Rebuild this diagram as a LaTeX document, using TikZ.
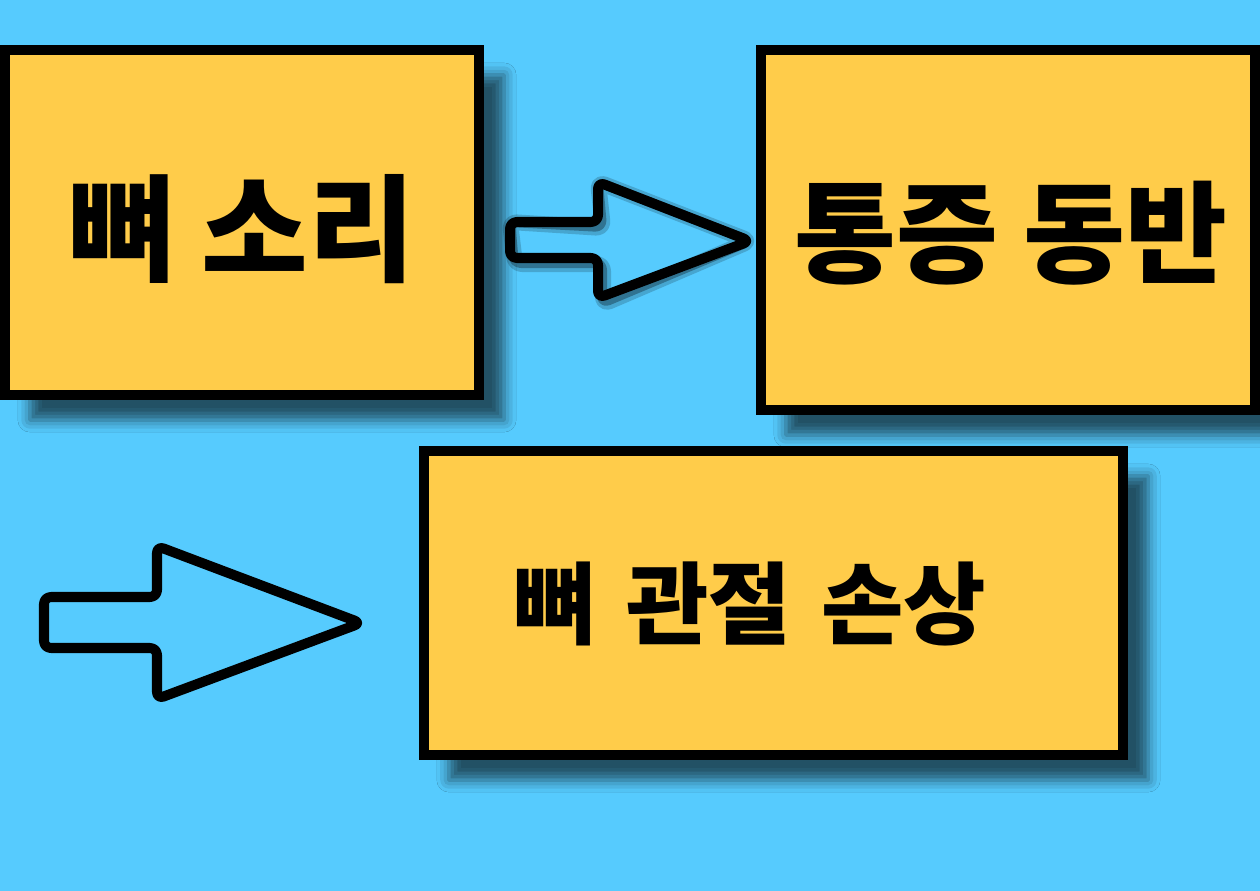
\documentclass[tikz,border=0pt]{standalone}
\usepackage{fontspec}
\newfontfamily\cjk{Noto Sans CJK KR Black}
\usetikzlibrary{shadows.blur}
\definecolor{skyblue}{HTML}{56CBFE}
\definecolor{boxyellow}{HTML}{FFCC4A}

\tikzset{
	stepbox/.style={draw=black, line width=0.1cm, fill=boxyellow, inner sep=0pt,
		blur shadow={shadow xshift=0.25cm, shadow yshift=-0.25cm,
			shadow blur radius=0.12cm, shadow opacity=60}},
	blockarrow/.style={draw=black, line width=0.1cm, rounded corners=0.07cm,
		line join=round},
}
% lower a card text without changing its box
\newcommand{\dropby}[2]{\raisebox{-#1}[\height][\depth]{#2}}

\begin{document}
\begin{tikzpicture}[x=0.01cm, y=-0.01cm]
			% Canvas in pixel units, y runs downwards.
			\useasboundingbox (0,0) rectangle (1260,891);
			\clip (0,0) rectangle (1260,891);
			\fill[skyblue] (0,0) rectangle (1260,891);

			% The three cards.
			\node[stepbox, minimum width=4.74cm, minimum height=3.45cm,
				font=\cjk\fontsize{33}{33}\selectfont]
				(sound) at (242,222.5) {\dropby{0.07cm}{뼈 소리}};
			\node[stepbox, minimum width=4.94cm, minimum height=3.60cm,
				font=\cjk\fontsize{31.5}{31.5}\selectfont]
				(pain) at (1008,230) {\hspace{0.06cm}\dropby{0.03cm}{통증 동반}};
			\node[stepbox, minimum width=6.99cm, minimum height=3.04cm,
				text width=5.19cm, inner xsep=0.9cm, align=left,
				font=\cjk\fontsize{25.5}{25.5}\selectfont]
				(damage) at (773.5,603) {\dropby{0.01cm}{뼈 관절 손상}};

			% Upper block arrow, with a soft shadow under its outline.
			\coordinate (Atail) at (510,222);
			\coordinate (Ahead) at (598,182);
			\coordinate (Atip) at (750,241);
			\draw[blockarrow, opacity=0.18, line width=0.16cm, shift={(5,6)}]
				(Atail) -- (598,222) -- (Ahead) -- (Atip) -- (598,298)
				-- (598,258) -- (510,258) -- cycle;
			\draw[blockarrow, opacity=0.3, shift={(4,5)}]
				(Atail) -- (598,222) -- (Ahead) -- (Atip) -- (598,298)
				-- (598,258) -- (510,258) -- cycle;
			\draw[blockarrow]
				(Atail) -- (598,222) -- (Ahead) -- (Atip) -- (598,298)
				-- (598,258) -- (510,258) -- cycle;

			% Lower block arrow, no shadow.
			\coordinate (Btail) at (44,597);
			\coordinate (Bhead) at (157,546);
			\coordinate (Btip) at (361,623);
			\draw[blockarrow]
				(Btail) -- (157,597) -- (Bhead) -- (Btip) -- (157,699)
				-- (157,648) -- (44,648) -- cycle;
\end{tikzpicture}
\end{document}
